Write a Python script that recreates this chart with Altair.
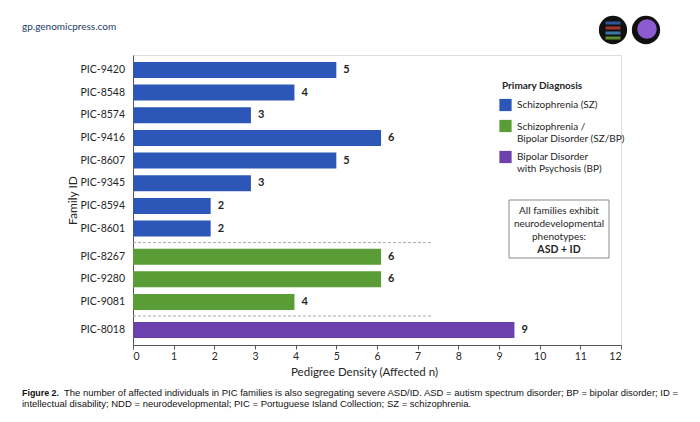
import altair as alt
import pandas as pd

# ---- data ----
families = ["PIC-9420", "PIC-8548", "PIC-8574", "PIC-9416", "PIC-8607", "PIC-9345",
            "PIC-8594", "PIC-8601", "PIC-8267", "PIC-9280", "PIC-9081", "PIC-8018"]
affected = [5, 4, 3, 6, 5, 3, 2, 2, 6, 6, 4, 9]
# drawn bar lengths as measured on the picture
bar_length = [5.0, 3.97, 2.9, 6.1, 5.0, 2.9, 1.91, 1.91, 6.1, 6.1, 3.97, 9.38]
diagnosis_codes = ["SZ"] * 8 + ["SZ/BP"] * 3 + ["BP"]
categories = ["SZ", "SZ/BP", "BP"]
category_labels = ["Schizophrenia (SZ)",
                   "Schizophrenia /|Bipolar Disorder (SZ/BP)",
                   "Bipolar Disorder|with Psychosis (BP)"]
category_colors = ["#2d56b9", "#5a9c36", "#6c40ad"]
x_ticks = list(range(0, 13))

label_of = dict(zip(categories, category_labels))

# ---- layout helpers (row positions with a small gap between groups) ----
GAP = 0.24
pos = []
g = 0
for i, d in enumerate(diagnosis_codes):
    if i > 0 and d != diagnosis_codes[i - 1]:
        g += 1
    pos.append(i + g * GAP)

df = pd.DataFrame({
    "family": families,
    "affected": affected,
    "bar_length": bar_length,
    "diagnosis": [label_of[d] for d in diagnosis_codes],
    "pos": pos,
})
df["y_top"] = df["pos"] - 0.353
df["y_bot"] = df["pos"] + 0.353
df["zero"] = 0

seps = []
for i in range(1, len(diagnosis_codes)):
    if diagnosis_codes[i] != diagnosis_codes[i - 1]:
        seps.append((pos[i - 1] + pos[i]) / 2)
sep_df = pd.DataFrame({"ysep": seps, "x0": [0] * len(seps), "x1": [7.35] * len(seps)})

FONT = "Lato"
TXT = "#262626"
CAPFONT = "Liberation Sans, Arial, sans-serif"

color_scale = alt.Scale(domain=category_labels, range=category_colors)
xscale = alt.Scale(domain=[0, 12], nice=False, zero=True)
yscale = alt.Scale(domain=[-0.66, pos[-1] + 0.66], reverse=True, nice=False, zero=False)

xaxis = alt.Axis(values=x_ticks, grid=False, tickSize=4, tickColor="#555", domainColor="#555",
                 labelFontSize=10.5, labelColor=TXT, labelPadding=2, labelFont=FONT,
                 title="Pedigree Density (Affected n)", titleX=231, titleY=27,
                 titleBaseline="middle", titleAlign="center", titleFontSize=11.5,
                 titleFontWeight="normal", titleColor=TXT, titleFont=FONT)
yaxis = alt.Axis(labels=False, ticks=False, grid=False, domainColor="#555",
                 title="Family ID", titleX=-61, titleY=145, titleAngle=270,
                 titleAlign="center", titleBaseline="middle", titleFontSize=12,
                 titleFontWeight="normal", titleColor=TXT, titleFont=FONT)

def X(field):
    return alt.X(field, type="quantitative", scale=xscale, axis=xaxis)

def Y(field):
    return alt.Y(field, type="quantitative", scale=yscale, axis=yaxis)

base = alt.Chart(df)

bars = base.mark_rect().encode(
    x=X("zero"), x2="bar_length:Q",
    y=Y("y_top"), y2="y_bot:Q",
    color=alt.Color("diagnosis:N", scale=color_scale, legend=None),
)

values = base.mark_text(align="left", baseline="middle", dx=7, fontSize=11,
                        fontWeight="bold", font=FONT, color=TXT).encode(
    x=X("bar_length"), y=Y("pos"), text="affected:Q")

fam_labels = base.mark_text(align="right", baseline="middle", fontSize=10.5,
                            font=FONT, color=TXT).encode(
    x=alt.value(-8), y=Y("pos"), text="family:N")

separators = alt.Chart(sep_df).mark_rule(strokeDash=[3, 2], color="#a8a8a8", strokeWidth=1).encode(
    x=X("x0"), x2="x1:Q", y=Y("ysep"))

# ---- legend (built from the category list) ----
leg_df = pd.DataFrame({"label": category_labels, "ly": [50, 71, 102], "lt": [50, 71.5, 102]})
leg_title = alt.Chart(pd.DataFrame({"t": ["Primary Diagnosis"]})).mark_text(
    align="left", baseline="middle", fontSize=10, fontWeight="bold", font=FONT,
    color=TXT).encode(x=alt.value(369), y=alt.value(31), text="t:N")
leg_sw = alt.Chart(leg_df).mark_square(size=150, opacity=1, filled=True).encode(
    x=alt.value(372.5), y=alt.Y("ly:Q", scale=None),
    color=alt.Color("label:N", scale=color_scale, legend=None))
leg_txt = alt.Chart(leg_df).mark_text(
    align="left", baseline="middle", fontSize=10, font=FONT, color=TXT,
    lineBreak="|", lineHeight=12).encode(
    x=alt.value(384), y=alt.Y("lt:Q", scale=None), text="label:N")

# ---- annotation box ----
note_box = alt.Chart(pd.DataFrame({"a": [0]})).mark_rect(
    fill="white", stroke="#8a8a8a", strokeWidth=1).encode(
    x=alt.value(376), x2=alt.value(476), y=alt.value(145), y2=alt.value(203))
note_lines = ["All families exhibit", "neurodevelopmental", "phenotypes:"]
note_y = [156, 169, 182]
note_df = pd.DataFrame({"t": note_lines, "yy": note_y})
note_text = alt.Chart(note_df).mark_text(align="center", baseline="middle", fontSize=10,
                                         font=FONT, color=TXT).encode(
    x=alt.value(426), y=alt.Y("yy:Q", scale=None), text="t:N")
note_bold = alt.Chart(pd.DataFrame({"t": ["ASD + ID"]})).mark_text(
    align="center", baseline="middle", fontSize=10.5, fontWeight="bold", font=FONT,
    color=TXT).encode(x=alt.value(426), y=alt.value(195), text="t:N")

# ---- header / caption ----
site = alt.Chart(pd.DataFrame({"t": ["gp.genomicpress.com"]})).mark_text(
    align="left", baseline="middle", fontSize=10, font=FONT, color="#23406b").encode(
    x=alt.value(-111), y=alt.value(-28), text="t:N")

logo = alt.Chart(pd.DataFrame({"xx": [480, 513]})).mark_point(
    filled=True, shape="circle", size=800, color="#111111", opacity=1).encode(
    x=alt.X("xx:Q", scale=None), y=alt.value(-25))
logo_brain = alt.Chart(pd.DataFrame({"a": [0]})).mark_point(
    filled=True, shape="circle", size=380, color="#8a5bd1", opacity=1).encode(
    x=alt.value(514), y=alt.value(-26))
logo_bars = alt.Chart(pd.DataFrame({"yy": [-32, -27, -22, -17],
                                    "cc": ["#3b6fd0", "#d9453b", "#4aa3df", "#7cbf3b"]})).mark_tick(
    thickness=3, size=1, orient="horizontal").encode(
    x=alt.value(480), y=alt.Y("yy:Q", scale=None),
    color=alt.Color("cc:N", scale=None), size=alt.value(15))

cap_bold = alt.Chart(pd.DataFrame({"t": ["Figure 2."]})).mark_text(
    align="left", baseline="middle", fontSize=8.9, fontWeight="bold",
    font=CAPFONT, color="#111").encode(
    x=alt.value(-111), y=alt.value(338), text="t:N")
cap_lines = ["The number of affected individuals in PIC families is also segregating severe ASD/ID. "
             "ASD = autism spectrum disorder; BP = bipolar disorder; ID =",
             "intellectual disability; NDD = neurodevelopmental; PIC = Portuguese Island Collection; "
             "SZ = schizophrenia."]
cap_df = pd.DataFrame({"t": cap_lines, "xx": [-69, -111], "yy": [338, 349]})
cap_text = alt.Chart(cap_df).mark_text(
    align="left", baseline="middle", fontSize=9.5,
    font=CAPFONT, color="#111").encode(
    x=alt.X("xx:Q", scale=None), y=alt.Y("yy:Q", scale=None), text="t:N")

chart = alt.layer(
    separators, bars, values, fam_labels, leg_title, leg_sw, leg_txt,
    note_box, note_text, note_bold,
    site, logo, logo_brain, logo_bars, cap_bold, cap_text
).properties(
    width=488, height=290,
    autosize=alt.AutoSizeParams(type="none"),
    padding={"left": 125, "top": 47, "right": 71, "bottom": 69},
).configure_view(stroke=None).configure(background="white")

chart.save("out.html", embed_options={"renderer": "svg", "actions": False})
